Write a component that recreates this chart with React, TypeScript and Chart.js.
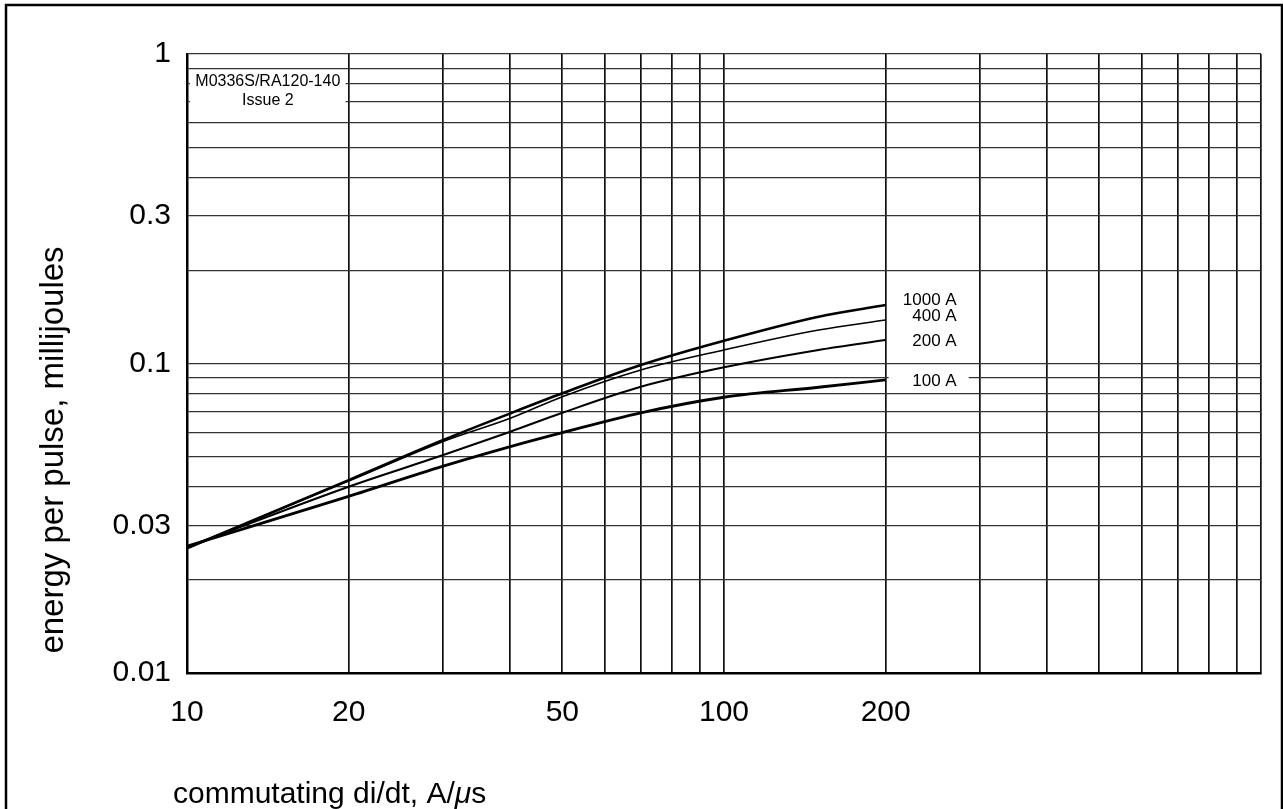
import React, { useEffect, useRef } from "react";
import { Chart, registerables } from "chart.js";

Chart.register(...registerables);

// ---- data ----
const diDt = [10, 20, 30, 40, 50, 70, 100, 150, 200];
const energy1000A = [0.0253, 0.042, 0.0566, 0.069, 0.0801, 0.0989, 0.1185, 0.1417, 0.1545];
const energy400A = [0.0254, 0.0417, 0.056, 0.0665, 0.0781, 0.0953, 0.1106, 0.1283, 0.1382];
const energy200A = [0.0255, 0.04, 0.0506, 0.0602, 0.0693, 0.0841, 0.0972, 0.1106, 0.1191];
const energy100A = [0.0257, 0.0372, 0.0466, 0.0539, 0.0598, 0.0693, 0.0778, 0.0838, 0.0885];
const seriesNames = ["1000 A", "400 A", "200 A", "100 A"];

const xGridValues = [10, 20, 30, 40, 50, 60, 70, 80, 90, 100, 200, 300, 400, 500, 600, 700, 800, 900, 1000];
const xLabelValues = [10, 20, 50, 100, 200];
const xLabelTexts = ["10", "20", "50", "100", "200"];

const yGridValues = [
  0.01, 0.02, 0.03, 0.04, 0.05, 0.06, 0.07, 0.08, 0.09,
  0.1, 0.2, 0.3, 0.4, 0.5, 0.6, 0.7, 0.8, 0.9, 1,
];
const yLabelValues = [0.01, 0.03, 0.1, 0.3, 1];
const yLabelTexts = ["0.01", "0.03", "0.1", "0.3", "1"];

const noteLines = ["M0336S/RA120-140", "Issue 2"];
const xTitleParts = ["commutating di/dt, A/", "\u03bc", "s"];
const yTitle = "energy per pulse, millijoules";

const FONT = "'Liberation Sans', Arial, Helvetica, sans-serif";

const lookup = (vals: number[], texts: string[], v: number) => {
  const i = vals.findIndex((x) => Math.abs(x - v) < 1e-9 * Math.max(1, x));
  return i >= 0 ? texts[i] : "";
};

const decorPlugin = {
  id: "decor",
  afterDraw(chart: any) {
    const ctx = chart.ctx as CanvasRenderingContext2D;
    const xs = chart.scales.x;
    const ys = chart.scales.y;
    ctx.save();

    // outer frame
    ctx.strokeStyle = "#000";
    ctx.lineWidth = 2.5;
    ctx.strokeRect(6, 5, 1276, 900);

    // note box in first cell
    const x10 = xs.getPixelForValue(10);
    const x20 = xs.getPixelForValue(20);
    ctx.fillStyle = "#fff";
    ctx.fillRect(x10 + 3, 72, x20 - x10 - 6, 38);
    ctx.fillStyle = "#000";
    ctx.font = `16px ${FONT}`;
    ctx.textAlign = "center";
    ctx.textBaseline = "middle";
    const cx = (x10 + x20) / 2;
    noteLines.forEach((t, i) => ctx.fillText(t, cx, 82 + i * 19));

    // curve labels
    const series = [energy1000A, energy400A, energy200A, energy100A];
    const dys = [-5, -4, 1, 1];
    const x200 = xs.getPixelForValue(200);
    ctx.font = `17px ${FONT}`;
    ctx.textAlign = "right";
    series.forEach((s, i) => {
      const y = ys.getPixelForValue(s[s.length - 1]) + dys[i];
      if (i === 3) {
        ctx.fillStyle = "#fff";
        ctx.fillRect(x200 + 3, y - 8, 80, 16);
        ctx.fillStyle = "#000";
      }
      ctx.fillText(seriesNames[i], x200 + 71, y);
    });

    // x title with italic mu
    ctx.textAlign = "left";
    ctx.textBaseline = "alphabetic";
    let tx = 173;
    const ty = 803;
    xTitleParts.forEach((p, i) => {
      ctx.font = `${i === 1 ? "italic " : ""}30px ${FONT}`;
      ctx.fillText(p, tx, ty);
      tx += ctx.measureText(p).width;
    });

    // y title
    ctx.font = `33px ${FONT}`;
    ctx.translate(63, 450);
    ctx.rotate(-Math.PI / 2);
    ctx.textAlign = "center";
    ctx.fillText(yTitle, 0, 0);

    ctx.restore();
  },
};

export default function App() {
  const ref = useRef<HTMLCanvasElement | null>(null);

  useEffect(() => {
    document.body.style.margin = "0";
    document.body.style.overflow = "hidden";
    if (!ref.current) return;
    const lineDs = (label: string, data: number[], w: number) => ({
      label,
      data: diDt.map((x, i) => ({ x, y: data[i] })),
      borderColor: "#000",
      borderWidth: w,
      pointRadius: 0,
      fill: false,
      cubicInterpolationMode: "monotone" as const,
    });
    const chart = new Chart(ref.current, {
      type: "line",
      data: {
        datasets: [
          lineDs(seriesNames[0], energy1000A, 2.6),
          lineDs(seriesNames[1], energy400A, 1.6),
          lineDs(seriesNames[2], energy200A, 2.1),
          lineDs(seriesNames[3], energy100A, 2.8),
        ],
      },
      options: {
        animation: false,
        responsive: false,
        layout: { padding: { left: 0, top: 54, right: 21, bottom: 0 } },
        plugins: { legend: { display: false }, tooltip: { enabled: false }, title: { display: false } },
        scales: {
          x: {
            type: "logarithmic",
            min: 10,
            max: 1000,
            afterBuildTicks: (s: any) => {
              s.ticks = xGridValues.map((v) => ({ value: v }));
            },
            afterFit: (s: any) => {
              s.height = 136;
            },
            ticks: {
              autoSkip: false,
              maxRotation: 0,
              padding: 22,
              color: "#000",
              font: { family: FONT, size: 30 },
              callback: (v: any) => lookup(xLabelValues, xLabelTexts, Number(v)),
            },
            grid: { color: "#111", lineWidth: 1.7, drawTicks: false },
            border: { color: "#000", width: 2.5 },
          },
          y: {
            type: "logarithmic",
            min: 0.01,
            max: 1,
            afterBuildTicks: (s: any) => {
              s.ticks = yGridValues.map((v) => ({ value: v }));
            },
            afterFit: (s: any) => {
              s.width = 187;
            },
            ticks: {
              autoSkip: false,
              padding: 16,
              color: "#000",
              font: { family: FONT, size: 30 },
              callback: (v: any) => lookup(yLabelValues, yLabelTexts, Number(v)),
            },
            grid: { color: "#333", lineWidth: 1.3, drawTicks: false },
            border: { color: "#000", width: 2.5 },
          },
        },
      },
      plugins: [decorPlugin],
    });
    return () => chart.destroy();
  }, []);

  return (
    <div style={{ width: 1283, height: 809, background: "#fff" }}>
      <canvas ref={ref} width={1283} height={809} style={{ display: "block" }} />
    </div>
  );
}
